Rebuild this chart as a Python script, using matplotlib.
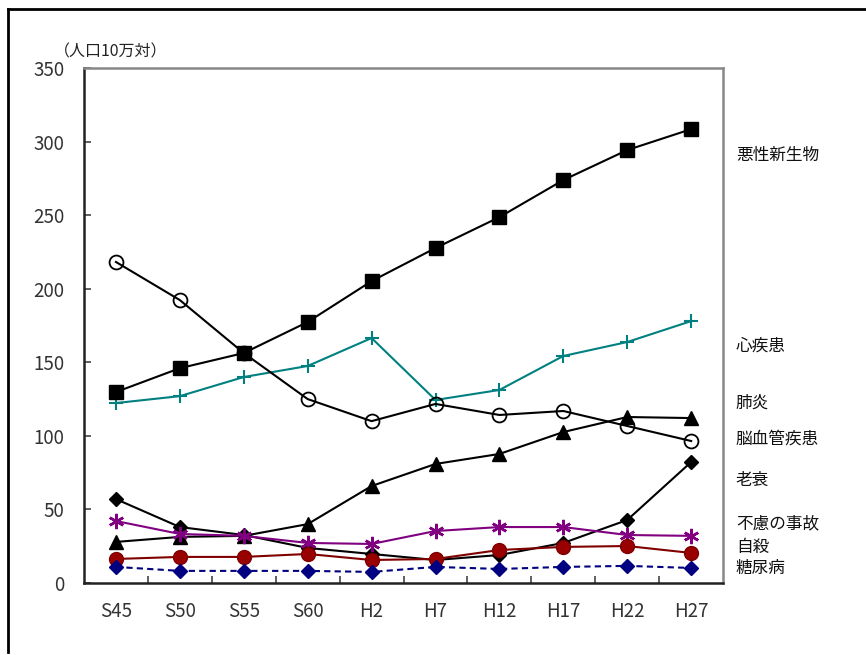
import matplotlib
matplotlib.use("Agg")
from matplotlib import pyplot as plt
from matplotlib.lines import Line2D

plt.rcParams['font.family'] = ['Noto Sans CJK JP', 'DejaVu Sans']

years = ["S45", "S50", "S55", "S60", "H2", "H7", "H12", "H17", "H22", "H27"]

malignant = [129.8, 146.0, 156.3, 177.4, 205.2, 227.7, 248.7, 273.9, 294.3, 308.5]
heart = [122.3, 127.0, 140.0, 147.5, 166.5, 124.4, 131.2, 154.3, 163.8, 178.0]
cerebro = [218.2, 192.3, 156.3, 125.0, 110.0, 121.7, 114.2, 116.9, 106.7, 96.5]
pneumonia = [27.9, 31.3, 32.0, 40.0, 65.9, 80.9, 87.7, 102.6, 112.8, 112.1]
senility = [57.0, 38.0, 32.6, 23.8, 19.7, 15.6, 19.0, 27.2, 42.8, 82.2]
accident = [42.1, 33.3, 32.0, 27.2, 26.5, 35.3, 38.0, 38.0, 32.6, 32.0]
suicide = [16.3, 17.7, 17.7, 19.7, 15.6, 16.3, 22.4, 24.5, 25.1, 20.4]
diabetes = [10.9, 8.2, 8.2, 8.2, 7.5, 10.9, 9.5, 10.9, 11.6, 10.2]

labels = ["悪性新生物", "心疾患", "肺炎", "脳血管疾患", "老衰", "不慮の事故", "自殺", "糖尿病"]
label_y = [291, 161, 122, 97.5, 69.5, 40, 24, 10]


def main():
    fig = plt.figure(figsize=(8.66, 6.55), dpi=100)
    ax = fig.add_axes([0.097, 0.110, 0.738, 0.786])
    x = list(range(len(years)))

    ax.plot(x, malignant, color='black', lw=1.5, marker='s', ms=10.5, mfc='black', mec='black', zorder=5)
    ax.plot(x, heart, color='#008080', lw=1.5, marker='+', ms=10, mew=1.5, zorder=4)
    ax.plot(x, cerebro, color='black', lw=1.5, marker='o', ms=10, mfc='none', mec='black', mew=1.3, zorder=4)
    ax.plot(x, pneumonia, color='black', lw=1.5, marker='^', ms=10, mfc='black', zorder=4)
    ax.plot(x, senility, color='black', lw=1.5, marker='D', ms=7, mfc='black', zorder=4)
    ax.plot(x, accident, color='#800080', lw=1.5, marker=(6, 2, 0), ms=11, mew=1.8, zorder=4)
    ax.plot(x, suicide, color='#800000', lw=1.5, marker='o', ms=10, mfc='#990000', mec='#800000', zorder=4)
    ax.plot(x, diabetes, color='#000080', lw=1.5, ls=(0, (3, 2)), marker='D', ms=7.5,
            mfc='#000080', mec='#000080', zorder=4)

    ax.set_xlim(-0.5, len(years) - 0.5)
    ax.set_ylim(0, 350)
    ax.set_yticks(range(0, 351, 50))
    ax.set_xticks(x)
    ax.set_xticklabels(years)
    ax.set_xticks([i + 0.5 for i in range(len(years) - 1)], minor=True)
    ax.tick_params(axis='x', which='major', length=0, pad=13, labelsize=13.5, labelcolor='#333333')
    ax.tick_params(axis='x', which='minor', direction='in', length=5, width=1.2, color='#444444')
    ax.tick_params(axis='y', direction='in', length=5, width=1.2, color='#444444',
                   pad=14, labelsize=13.5, labelcolor='#333333')

    for side in ('left', 'bottom'):
        ax.spines[side].set_color('#222222')
        ax.spines[side].set_linewidth(1.8)
    for side in ('top', 'right'):
        ax.spines[side].set_color('#888888')
        ax.spines[side].set_linewidth(1.8)

    for text, y in zip(labels, label_y):
        ax.text(1.02, y, text, transform=ax.get_yaxis_transform(), fontsize=12,
                va='center', ha='left', color='#111111')

    fig.text(0.062, 0.921, "（人口10万対）", fontsize=11.5, color='#222222', va='center', ha='left')

    # open frame around the figure: top and left edges only
    fig.add_artist(Line2D([0.0095, 1.0], [0.987, 0.987], color='black', lw=2, transform=fig.transFigure))
    fig.add_artist(Line2D([0.0095, 0.0095], [0.987, 0.004], color='black', lw=2, transform=fig.transFigure))

    plt.savefig("out.png", dpi=100)


if __name__ == "__main__":
    main()
